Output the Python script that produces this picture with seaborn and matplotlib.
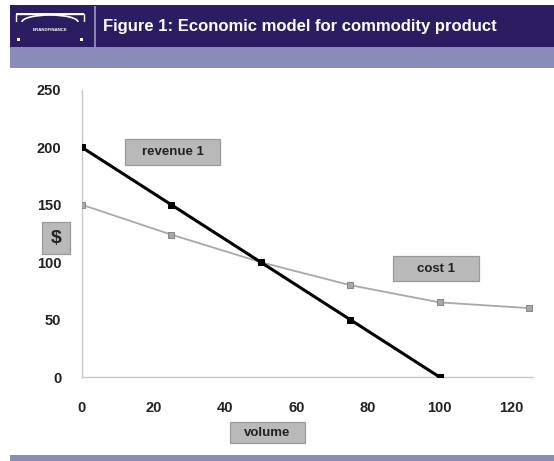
import matplotlib
matplotlib.use("Agg")
import matplotlib.pyplot as plt
import matplotlib.patches as mpatches
import pandas as pd
import seaborn as sns

# datos
volume = [0, 25, 50, 75, 100, 125]
revenue_1 = [200, 150, 100, 50, 0, None]
cost_1 = [150, 124, 100, 80, 65, 60]
x_ticks = [0, 20, 40, 60, 80, 100, 120]
y_ticks = [0, 50, 100, 150, 200, 250]
title = "Figure 1: Economic model for commodity product"

df = pd.DataFrame({"volume": volume, "revenue 1": revenue_1, "cost 1": cost_1})

sns.set_theme(style="white")
plt.rcParams["font.family"] = ["Liberation Sans", "DejaVu Sans"]

W, H = 554, 461
fig = plt.figure(figsize=(W / 100, H / 100), dpi=100)
fig.patch.set_facecolor("white")


# rectangulo en pixeles de la imagen
def fbox(x0, y0, x1, y1, **kw):
    fig.patches.append(mpatches.Rectangle((x0 / W, 1 - y1 / H), (x1 - x0) / W, (y1 - y0) / H,
                                          transform=fig.transFigure, **kw))


def label_box(x0, y0, x1, y1, text, size):
    fbox(x0, y0, x1, y1, facecolor="#b9b9b9", edgecolor="#999999", linewidth=0.9)
    fig.text((x0 + x1) / 2 / W, 1 - (y0 + y1) / 2 / H, text, fontsize=size, fontweight="bold",
             color="#222222", ha="center", va="center")


# bandas de la cabecera y el pie
fbox(10, 5, 554, 47, facecolor="#2c1d62", edgecolor="none")
fbox(10, 47, 554, 68, facecolor="#8b8bb9", edgecolor="none")
fbox(10, 455, 554, 461, facecolor="#8b8bb9", edgecolor="none")
fbox(94, 6, 95.5, 47, facecolor="#8a84b0", edgecolor="none")
# logo aproximado
fbox(16, 14, 84, 36, facecolor="none", edgecolor="white", linewidth=1.0)
fig.patches.append(mpatches.Ellipse((50 / W, 1 - 22 / H), 56 / W, 14 / H, transform=fig.transFigure,
                                    facecolor="#2c1d62", edgecolor="white", linewidth=1.2))
fbox(14, 22, 86, 40, facecolor="#2c1d62", edgecolor="none")
fbox(16, 13, 84, 15, facecolor="white", edgecolor="none")
fig.text(50 / W, 1 - 30 / H, "BRANDFINANCE", color="white", fontsize=3.2, ha="center", va="center",
         fontweight="bold")
fbox(17, 38, 20, 41, facecolor="white", edgecolor="none")
fbox(80, 38, 83, 41, facecolor="white", edgecolor="none")
fig.text(103 / W, 1 - 27 / H, title, color="white", fontsize=12, fontweight="bold", ha="left",
         va="center")

ax = fig.add_axes([82 / W, (H - 377) / H, 450.5 / W, 287 / H])
ax.set_facecolor("white")

sns.lineplot(data=df, x="volume", y="cost 1", ax=ax, color="#a8a8a8", linewidth=1.3,
             marker="s", markersize=5, markerfacecolor="#a8a8a8", markeredgecolor="#888888")
sns.lineplot(data=df.dropna(), x="volume", y="revenue 1", ax=ax, color="black", linewidth=2.2,
             marker="s", markersize=5, markerfacecolor="black", markeredgecolor="black")

ax.set_xlim(0, 126)
ax.set_ylim(0, 250)
ax.set_xticks(x_ticks)
ax.set_yticks(y_ticks)
ax.set_xlabel("")
ax.set_ylabel("")
for s in ["top", "right"]:
    ax.spines[s].set_visible(False)
for s in ["left", "bottom"]:
    ax.spines[s].set_color("#c8c8c8")
    ax.spines[s].set_linewidth(1.0)
    ax.spines[s].set_zorder(0)
ax.tick_params(axis="both", direction="out", length=3, width=0.8, color="#c8c8c8",
               labelsize=10.5, labelcolor="#222222")
ax.tick_params(axis="y", pad=12)
ax.tick_params(axis="x", pad=14)
for lab in ax.get_xticklabels() + ax.get_yticklabels():
    lab.set_fontweight("bold")

label_box(125, 139, 220, 165, "revenue 1", 9.5)
label_box(393, 256, 479, 281, "cost 1", 9.5)
label_box(42, 222, 70, 254, "$", 14)
label_box(230, 422, 305, 443, "volume", 9.5)

fig.savefig("out.png", dpi=100, facecolor="white")
